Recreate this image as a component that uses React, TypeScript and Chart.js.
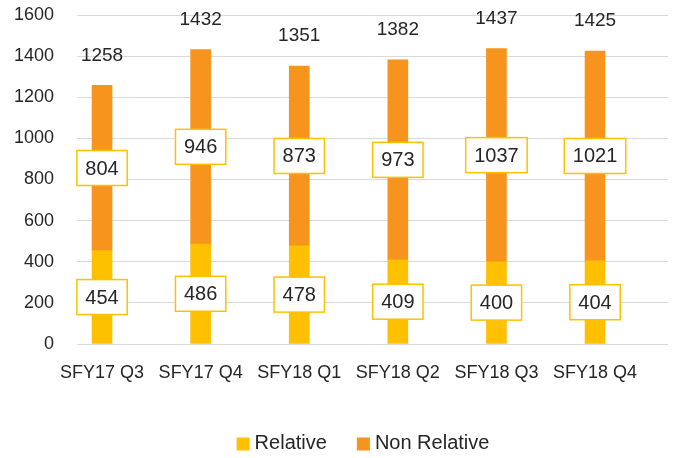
import { useEffect, useRef } from "react";
import { Chart, registerables } from "chart.js";

Chart.register(...registerables);

const categories = ["SFY17 Q3", "SFY17 Q4", "SFY18 Q1", "SFY18 Q2", "SFY18 Q3", "SFY18 Q4"];
const relative = [454, 486, 478, 409, 400, 404];
const nonRelative = [804, 946, 873, 973, 1037, 1021];
const seriesNames = ["Relative", "Non Relative"];
const seriesColors = ["#FFC000", "#F7941D"];
const yMin = 0;
const yMax = 1600;
const yStep = 200;

const FONT = "'Liberation Sans', Arial, sans-serif";
const TEXT = "#262626";

const labelPlugin = {
  id: "valueLabels",
  afterDatasetsDraw(chart: any) {
    const ctx = chart.ctx as CanvasRenderingContext2D;
    ctx.save();
    ctx.textAlign = "center";
    ctx.textBaseline = "middle";
    chart.data.datasets.forEach((ds: any, di: number) => {
      const meta = chart.getDatasetMeta(di);
      meta.data.forEach((el: any, i: number) => {
        const v = ds.data[i].y;
        const text = String(v);
        ctx.font = `20px ${FONT}`;
        const tw = ctx.measureText(text).width;
        const w = tw + 17;
        const h = 35;
        const cy = (el.y + el.base) / 2;
        const cx = el.x;
        ctx.fillStyle = "#ffffff";
        ctx.fillRect(cx - w / 2, cy - h / 2, w, h);
        ctx.strokeStyle = "#FFC000";
        ctx.lineWidth = 1.5;
        ctx.strokeRect(cx - w / 2, cy - h / 2, w, h);
        ctx.fillStyle = TEXT;
        ctx.fillText(text, cx, cy + 1);
      });
    });
    const last = chart.getDatasetMeta(chart.data.datasets.length - 1);
    last.data.forEach((el: any, i: number) => {
      const total = relative[i] + nonRelative[i];
      ctx.font = `19px ${FONT}`;
      ctx.fillStyle = TEXT;
      ctx.fillText(String(total), el.x, el.y - 30);
    });
    ctx.restore();
  },
};

const legendPlugin = {
  id: "customLegend",
  afterDraw(chart: any) {
    const ctx = chart.ctx as CanvasRenderingContext2D;
    ctx.save();
    ctx.font = `20px ${FONT}`;
    ctx.textBaseline = "middle";
    ctx.textAlign = "left";
    const box = 13;
    const gap = 5;
    const itemGap = 30;
    const items = chart.data.datasets.map((ds: any) => ({
      text: ds.label,
      color: ds.backgroundColor,
      w: ctx.measureText(ds.label).width,
    }));
    const total = items.reduce((s: number, it: any) => s + box + gap + it.w, 0) + itemGap * (items.length - 1);
    const cx = 363;
    const cy = 443;
    let x = cx - total / 2;
    items.forEach((it: any) => {
      ctx.fillStyle = it.color;
      ctx.fillRect(x, cy - box / 2 + 1, box, box);
      ctx.fillStyle = TEXT;
      ctx.fillText(it.text, x + box + gap, cy);
      x += box + gap + it.w + itemGap;
    });
    ctx.restore();
  },
};

export default function App() {
  const ref = useRef<HTMLCanvasElement>(null);
  useEffect(() => {
    if (!ref.current) return;
    const chart = new Chart(ref.current, {
      type: "bar",
      data: {
        datasets: [
          {
            label: seriesNames[0],
            data: relative.map((v, i) => ({ x: i, y: v })),
            backgroundColor: seriesColors[0],
            barThickness: 20,
          },
          {
            label: seriesNames[1],
            data: nonRelative.map((v, i) => ({ x: i, y: v })),
            backgroundColor: seriesColors[1],
            barThickness: 20,
          },
        ],
      },
      options: {
        responsive: false,
        animation: false,
        layout: { padding: { top: 15, right: 8, left: 0, bottom: 0 } },
        plugins: {
          legend: { display: false },
          tooltip: { enabled: false },
        },
        scales: {
          x: {
            type: "linear",
            stacked: true,
            offset: false,
            min: -0.254,
            max: 5.74,
            grid: { display: false, drawTicks: false },
            border: { display: false },
            afterBuildTicks: (scale: any) => {
              scale.ticks = categories.map((_, i) => ({ value: i }));
            },
            afterFit: (scale: any) => {
              scale.height = 114;
              scale.paddingLeft = 0;
              scale.paddingRight = 0;
            },
            ticks: {
              autoSkip: false,
              maxRotation: 0,
              padding: 18,
              color: TEXT,
              font: { family: FONT, size: 18 },
              callback: (v: any) => categories[v] ?? "",
            },
          },
          y: {
            stacked: true,
            min: yMin,
            max: yMax,
            grid: { color: "#D9D9D9", drawTicks: false, lineWidth: 1 },
            border: { display: false },
            afterFit: (scale: any) => {
              scale.width = 77;
              scale.paddingTop = 0;
              scale.paddingBottom = 0;
            },
            ticks: {
              stepSize: yStep,
              padding: 23,
              color: TEXT,
              font: { family: FONT, size: 18 },
              callback: (v: any) => String(v),
            },
          },
        },
      },
      plugins: [labelPlugin, legendPlugin],
    });
    return () => chart.destroy();
  }, []);
  return (
    <div style={{ position: "absolute", left: 0, top: 0, width: 676, height: 458, background: "#fff" }}>
      <canvas ref={ref} width={676} height={458} style={{ display: "block" }} />
    </div>
  );
}
